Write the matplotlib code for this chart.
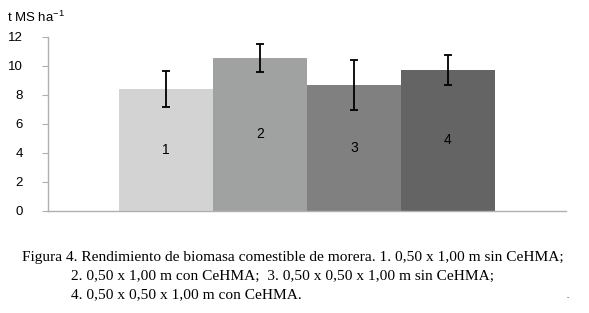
import matplotlib
matplotlib.use("Agg")
import matplotlib.pyplot as plt
import numpy as np

labels = ["1", "2", "3", "4"]
rendimiento = [8.4, 10.5, 8.65, 9.7]
error = [1.25, 0.95, 1.7, 1.02]
colores = ["#d3d3d3", "#a0a2a1", "#7f807f", "#636463"]
yticks = [0, 2, 4, 6, 8, 10, 12]

caption = [
    "Figura 4. Rendimiento de biomasa comestible de morera. 1. 0,50 x 1,00 m sin CeHMA;",
    "2. 0,50 x 1,00 m con CeHMA;  3. 0,50 x 0,50 x 1,00 m sin CeHMA;",
    "4. 0,50 x 0,50 x 1,00 m con CeHMA.",
]


def main():
    fig = plt.figure(figsize=(5.89, 3.13), dpi=100)
    ax = fig.add_axes([48 / 589, 1 - 210.5 / 313, 518 / 589, 174 / 313])

    width = 94 / 518 * 4
    x = np.arange(len(labels)) * width - 1.5 * width
    ax.bar(x, rendimiento, width=width, color=colores, edgecolor="none")
    ax.errorbar(x, rendimiento, yerr=error, fmt="none", ecolor="black",
                elinewidth=1.3, capsize=3, capthick=1.3)
    for xi, v, lab in zip(x, rendimiento, labels):
        ax.text(xi, v / 2, lab, ha="center", va="center", fontsize=10,
                family="Liberation Sans")

    ax.set_xlim(-2, 2)
    ax.set_ylim(0, 12)
    ax.set_yticks(yticks)
    ax.set_xticks([])
    for s in ["top", "right"]:
        ax.spines[s].set_visible(False)
    for s in ["left", "bottom"]:
        ax.spines[s].set_color("#b0b0b0")
        ax.spines[s].set_linewidth(1)
    ax.tick_params(axis="y", length=4, color="#b0b0b0", labelsize=9.5,
                   pad=14)
    for t in ax.get_yticklabels():
        t.set_family("Liberation Sans")

    fig.text(7 / 589, 1 - 17 / 313, "t MS ha$^{\\mathdefault{-1}}$",
             fontsize=9.5, family="Liberation Sans", va="center")

    fig.text(22 / 589, 1 - 257 / 313, caption[0], fontsize=11.1,
             family="Liberation Serif", va="center")
    fig.text(71 / 589, 1 - 276 / 313, caption[1], fontsize=11.1,
             family="Liberation Serif", va="center")
    fig.text(71 / 589, 1 - 295 / 313, caption[2], fontsize=11.1,
             family="Liberation Serif", va="center")
    fig.text(566 / 589, 1 - 296 / 313, ".", fontsize=6,
             family="Liberation Serif", va="center")

    fig.savefig("out.png", dpi=100)


if __name__ == "__main__":
    main()
